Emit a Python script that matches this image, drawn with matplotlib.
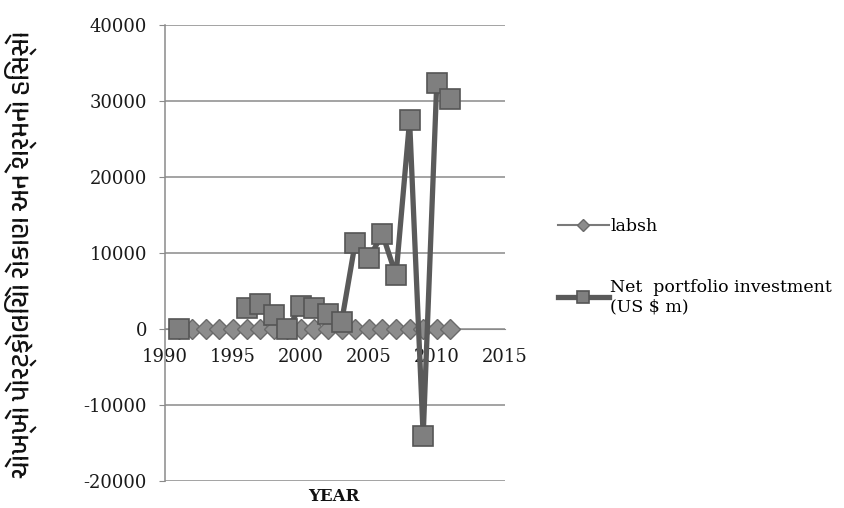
import numpy as np
import matplotlib
matplotlib.use('Agg')
import matplotlib.pyplot as plt
from matplotlib import font_manager

plt.rcParams['axes.unicode_minus'] = False

years = list(range(1991, 2012))
labsh = [0.40, 0.40, 0.39, 0.39, 0.38, 0.38, 0.38, 0.37, 0.37, 0.37, 0.36,
         0.36, 0.35, 0.35, 0.35, 0.34, 0.34, 0.34, 0.33, 0.33, 0.33]
npi = [6, np.nan, np.nan, np.nan, np.nan, 2748, 3312, 1828, -61, 3026, 2760,
       2021, 979, 11377, 9291, 12494, 7060, 27433, -14030, 32396, 30293]

y_label = 'ચોખ્ખો પોર્ટફોલિયો રોકાણ અને શ્રમનો હિસ્સો'

# pick a font that has Gujarati glyphs, if one is installed
names = sorted(set(f.name for f in font_manager.fontManager.ttflist))
guj = [n for n in names if 'Gujarati' in n]

serif = 'DejaVu Serif'
fig = plt.figure(figsize=(8.44, 5.08), dpi=100)
ax = fig.add_axes([0.1955, 0.053, 0.4025, 0.898])

ax.plot(years, labsh, color='#7a7a7a', lw=1.5, marker='D', ms=10,
        mfc='#8c8c8c', mec='#6a6a6a', mew=1.0, zorder=3, label='labsh')
ax.plot(years, npi, color='#5a5a5a', lw=3.8, marker='s', ms=14,
        mfc='#7f7f7f', mec='#555555', mew=1.2, zorder=4,
        label='Net  portfolio investment\n(US $ m)')

ax.set_xlim(1990, 2015)
ax.set_ylim(-20000, 40000)
ax.set_xticks(range(1990, 2016, 5))
ax.set_yticks(range(-20000, 40001, 10000))
ax.yaxis.grid(True, color='#8a8a8a', lw=1.1)
ax.set_axisbelow(True)

for s in ['top', 'right']:
    ax.spines[s].set_visible(False)
ax.spines['bottom'].set_position(('data', 0))
ax.spines['bottom'].set_color('#8a8a8a')
ax.spines['left'].set_color('#8a8a8a')
ax.spines['left'].set_linewidth(1.1)
ax.tick_params(axis='x', length=0, pad=14, labelsize=13)
ax.tick_params(axis='y', length=4, color='#8a8a8a', labelsize=13, pad=9)
for t in ax.get_xticklabels() + ax.get_yticklabels():
    t.set_fontfamily(serif)
    t.set_color('#1a1a1a')

fig.text(0.395, 0.022, 'YEAR', family=serif, weight='bold', fontsize=12,
         ha='center', va='center', color='#111111')
fig.text(0.024, 0.5, y_label, family=guj + ['Noto Sans', 'DejaVu Sans'],
         weight='bold', fontsize=19, rotation=90, ha='center', va='center',
         color='#111111')

leg = ax.legend(loc='center left', bbox_to_anchor=(0.643, 0.475),
                bbox_transform=fig.transFigure, frameon=False,
                prop={'family': serif, 'size': 12.5}, handlelength=2.9,
                labelspacing=2.5, handletextpad=0.1, markerscale=0.6)

fig.savefig('out.png', dpi=100)
